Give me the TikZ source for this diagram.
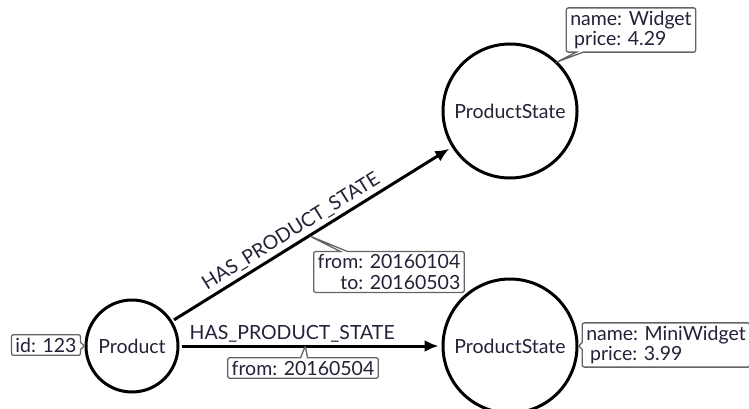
\documentclass[tikz,border=0pt]{standalone}
\usepackage{fontspec}
\setmainfont{Lato}
\usetikzlibrary{shapes.callouts,arrows.meta}
\definecolor{ink}{RGB}{34,34,56}
\definecolor{tagline}{RGB}{100,100,100}
\begin{document}
\begin{tikzpicture}[x=1pt,y=-1pt,
  font=\fontsize{19.5}{20.5}\selectfont,
  entity/.style={circle,draw=black,line width=3pt,text=ink,inner sep=0pt},
  rel/.style={line width=3pt,-{Latex[length=14pt,width=12pt]}},
  tag/.style={rectangle callout,draw=tagline,line width=1.3pt,rounded corners=2pt,
    fill=white,text=ink,inner xsep=4pt,inner ysep=3pt,callout pointer width=7pt},
  lbl/.style={text=ink}
]
\useasboundingbox (0,0) rectangle (749,409);
\clip (0,0) rectangle (749,409);

% graph nodes
\node[entity,minimum size=92pt]  (p)   at (132,346) {Product};
\node[entity,minimum size=134pt] (ps1) at (510,111) {ProductState};
\node[entity,minimum size=134pt] (ps2) at (510,346) {ProductState};

% relationships
\draw[rel,shorten <=2pt,shorten >=3pt] (p) -- (ps1)
  node[pos=.45,sloped,above,lbl] {HAS\_PRODUCT\_STATE}
  coordinate[pos=.49] (r1);
\draw[rel,shorten <=2pt,shorten >=3pt] (p) -- (ps2)
  node[pos=.43,above=-1pt,lbl] {HAS\_PRODUCT\_STATE}
  coordinate[pos=.48] (r2);

% property tags
\node[tag,callout absolute pointer={(p.west)}] (tid) at (46,345) {id: 123};
\node[tag,align=left,callout absolute pointer={(ps1.46)}] (tw) at (631,30)
  {name: Widget\\\hspace{0.2em}price: 4.29};
\node[tag,align=right,callout absolute pointer={(r1)}] (t1) at (389,272)
  {from: 20160104\\to: 20160503};
\node[tag,callout absolute pointer={(r2)}] (t2) at (303,368) {from: 20160504};
\node[tag,align=left,callout absolute pointer={(ps2.east)}] (tm) at (666,345)
  {name: MiniWidget\\\hspace{0.2em}price: 3.99};
\end{tikzpicture}
\end{document}
